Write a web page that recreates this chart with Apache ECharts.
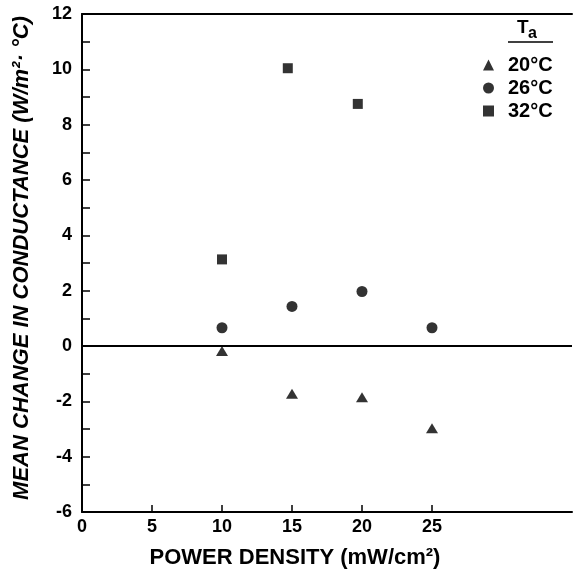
<!DOCTYPE html>
<html>
<head>
<meta charset="utf-8">
<script src="https://cdn.jsdelivr.net/npm/echarts@6/dist/echarts.min.js"></script>
<style>
  html, body { margin: 0; padding: 0; background: #fff; }
  #chart { width: 574px; height: 574px; }
</style>
</head>
<body>
<div id="chart"></div>
<script>
// Mean change in conductance vs. power density, by ambient temperature
const xTicks = [0, 5, 10, 15, 20, 25];
const yRange = [-6, 12];

const power20 = [10, 15, 20, 25];
const change20 = [-0.18, -1.73, -1.85, -2.97];

const power26 = [10, 15, 20, 25];
const change26 = [0.66, 1.43, 1.97, 0.66];

const power32 = [10, 14.7, 19.7];
const change32 = [3.13, 10.04, 8.75];

const seriesNames = ['20°C', '26°C', '32°C'];
const legendTitle = 'T';
const legendSub = 'a';

const pairs = (xs, ys) => xs.map((x, i) => [x, ys[i]]);

const FONT = '"Liberation Sans", "DejaVu Sans", sans-serif';
const INK = '#000';

const chart = echarts.init(document.getElementById('chart'), null, { renderer: 'canvas' });

chart.setOption({
  animation: false,
  backgroundColor: '#fff',
  grid: { left: 82, top: 14, width: 490, height: 499, containLabel: false },
  xAxis: [{
    type: 'value',
    min: 0, max: 35, interval: 5,
    position: 'bottom',
    name: 'POWER DENSITY (mW/cm²)',
    nameLocation: 'middle',
    nameGap: 35,
    nameTextStyle: {
      color: INK, fontFamily: FONT, fontWeight: 'bold', fontSize: 22,
      padding: [0, 64, 0, 0]
    },
    axisLine: { show: true, onZero: false, lineStyle: { color: INK, width: 2 } },
    axisTick: { show: true, inside: true, length: 7, customValues: xTicks, lineStyle: { color: INK, width: 1.5 } },
    axisLabel: {
      customValues: xTicks,
      color: INK, fontFamily: FONT, fontWeight: 'bold', fontSize: 18, margin: 6
    },
    splitLine: { show: false }
  }, {
    type: 'value',
    min: 0, max: 35,
    position: 'top',
    axisLine: { show: true, onZero: false, lineStyle: { color: INK, width: 2 } },
    axisTick: { show: false },
    axisLabel: { show: false },
    splitLine: { show: false }
  }],
  yAxis: {
    type: 'value',
    min: yRange[0], max: yRange[1], interval: 2,
    name: 'MEAN CHANGE IN CONDUCTANCE (W/m²· °C)',
    nameLocation: 'middle',
    nameRotate: 90,
    nameGap: 49,
    nameTextStyle: {
      color: INK, fontFamily: FONT, fontWeight: 'bold', fontStyle: 'italic', fontSize: 22,
      padding: [0, 0, 0, 10]
    },
    axisLine: { show: true, onZero: false, lineStyle: { color: INK, width: 2 } },
    axisTick: { show: true, inside: true, length: 8, lineStyle: { color: INK, width: 1.5 } },
    minorTick: { show: true, splitNumber: 2, length: 8, lineStyle: { color: INK, width: 1.5 } },
    axisLabel: { color: INK, fontFamily: FONT, fontWeight: 'bold', fontSize: 18, margin: 10 },
    splitLine: { show: false }
  },
  legend: {
    orient: 'vertical',
    left: 478, top: 50,
    itemWidth: 11, itemHeight: 11,
    itemGap: 3,
    textStyle: { color: INK, fontFamily: FONT, fontWeight: 'bold', fontSize: 20, padding: [0, 0, 0, 9] },
    data: [
      { name: seriesNames[0], icon: 'triangle' },
      { name: seriesNames[1], icon: 'circle' },
      { name: seriesNames[2], icon: 'rect' }
    ]
  },
  graphic: [
    {
      type: 'text', left: 517, top: 18,
      style: { text: legendTitle, fill: INK, font: 'bold 19px ' + FONT }
    },
    {
      type: 'text', left: 528, top: 26,
      style: { text: legendSub, fill: INK, font: 'bold 16px ' + FONT }
    },
    {
      type: 'line',
      shape: { x1: 508, y1: 42, x2: 553, y2: 42 },
      style: { stroke: INK, lineWidth: 1.5 }
    }
  ],
  series: [
    {
      name: seriesNames[0], type: 'scatter',
      symbol: 'triangle', symbolSize: [12, 10],
      itemStyle: { color: INK },
      data: pairs(power20, change20),
      markLine: {
        silent: true, symbol: 'none', label: { show: false },
        lineStyle: { color: INK, width: 2, type: 'solid' },
        data: [{ yAxis: 0 }]
      }
    },
    {
      name: seriesNames[1], type: 'scatter',
      symbol: 'circle', symbolSize: 11,
      itemStyle: { color: INK },
      data: pairs(power26, change26)
    },
    {
      name: seriesNames[2], type: 'scatter',
      symbol: 'rect', symbolSize: 10,
      itemStyle: { color: INK },
      data: pairs(power32, change32)
    }
  ]
});
</script>
</body>
</html>
